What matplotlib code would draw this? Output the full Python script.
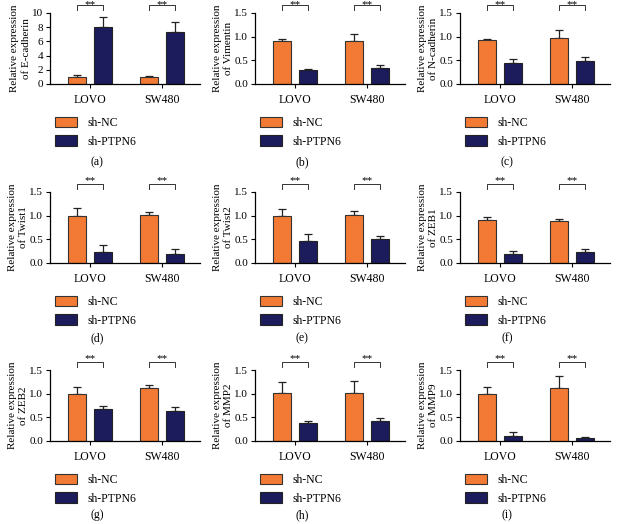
import numpy as np
import matplotlib
matplotlib.use("Agg")
import matplotlib.pyplot as plt
from matplotlib.patches import Patch
from matplotlib.transforms import blended_transform_factory

plt.rcParams["font.family"] = ["Liberation Serif", "DejaVu Serif"]

# ---------- data ----------
cell_lines = ["LOVO", "SW480"]
genes = ["E-cadherin", "Vimentin", "N-cadherin",
         "Twist1", "Twist2", "ZEB1",
         "ZEB2", "MMP2", "MMP9"]
panel_tags = ["(a)", "(b)", "(c)", "(d)", "(e)", "(f)", "(g)", "(h)", "(i)"]

nc_mean = [[1.0, 1.0], [0.91, 0.90], [0.93, 0.97],
           [1.0, 1.02], [1.0, 1.02], [0.90, 0.88],
           [1.0, 1.13], [1.02, 1.02], [1.0, 1.13]]
nc_err = [[0.2, 0.15], [0.05, 0.15], [0.02, 0.17],
          [0.17, 0.06], [0.14, 0.07], [0.07, 0.06],
          [0.15, 0.06], [0.22, 0.24], [0.14, 0.24]]
kd_mean = [[8.0, 7.3], [0.29, 0.33], [0.44, 0.48],
           [0.23, 0.19], [0.47, 0.51], [0.20, 0.23],
           [0.68, 0.63], [0.38, 0.42], [0.11, 0.07]]
kd_err = [[1.5, 1.5], [0.02, 0.08], [0.09, 0.10],
          [0.15, 0.11], [0.15, 0.07], [0.05, 0.07],
          [0.07, 0.09], [0.05, 0.07], [0.07, 0.02]]

legend_labels = ["sh-NC", "sh-PTPN6"]
orange = "#F27A34"
navy = "#1C1C5C"

# ---------- layout (pixels -> figure fractions) ----------
W, H = 618, 524
fig = plt.figure(figsize=(W / 100, H / 100), dpi=100)

col_left = [50, 255, 460]
row_bottom = [84, 263, 441]   # pixel y of the x-axis line
row_tag = [162, 338, 515]
ax_w, ax_h = 150, 71

x = np.arange(len(cell_lines))
bw = 0.255
off = 0.18

for i, gene in enumerate(genes):
    r, c = divmod(i, 3)
    left = col_left[c] / W
    bottom = 1 - row_bottom[r] / H
    ax = fig.add_axes([left, bottom, ax_w / W, ax_h / H])

    ax.bar(x - off, nc_mean[i], bw, color=orange, edgecolor="#333333",
           linewidth=0.8, zorder=2)
    ax.bar(x + off, kd_mean[i], bw, color=navy, edgecolor="#222222",
           linewidth=0.8, zorder=2)
    # upper error bars only
    ax.errorbar(x - off, nc_mean[i], yerr=[np.zeros(2), nc_err[i]], fmt="none",
                ecolor="#222222", elinewidth=0.9, capsize=3, capthick=0.9, zorder=1)
    ax.errorbar(x + off, kd_mean[i], yerr=[np.zeros(2), kd_err[i]], fmt="none",
                ecolor="#222222", elinewidth=0.9, capsize=3, capthick=0.9, zorder=1)

    ax.set_xlim(-0.555, 1.53)
    if i == 0:
        ax.set_ylim(0, 10)
        ax.set_yticks([0, 2, 4, 6, 8, 10])
    else:
        ax.set_ylim(0, 1.5)
        ax.set_yticks([0, 0.5, 1.0, 1.5])
        ax.set_yticklabels(["0.0", "0.5", "1.0", "1.5"])
    ax.set_xticks(x)
    ax.set_xticklabels(cell_lines, fontsize=8.5)
    ax.tick_params(axis="y", labelsize=8, length=3, width=0.8, pad=2)
    ax.tick_params(axis="x", length=3, width=0.8, pad=4)
    for s in ["top", "right"]:
        ax.spines[s].set_visible(False)
    for s in ["left", "bottom"]:
        ax.spines[s].set_linewidth(0.9)

    ax.set_ylabel("Relative expression\nof " + gene, fontsize=8,
                  linespacing=1.3, labelpad=1)

    # significance brackets
    trans = blended_transform_factory(ax.transData, ax.transAxes)
    for g in x:
        ax.plot([g - off, g - off, g + off, g + off], [1.04, 1.11, 1.11, 1.04],
                color="#333333", lw=0.7, transform=trans, clip_on=False)
        if r == 0:
            # top row: stars sit right at the top edge of the figure
            star_trans = blended_transform_factory(ax.transData, fig.transFigure)
            ax.text(g, 1.0, "**", ha="center", va="top", fontsize=8,
                    transform=star_trans, clip_on=False)
        else:
            ax.text(g, 1.10, "**", ha="center", va="bottom", fontsize=8,
                    transform=trans, clip_on=False)

    handles = [Patch(facecolor=orange, edgecolor="#333333", linewidth=0.8),
               Patch(facecolor=navy, edgecolor="#222222", linewidth=0.8)]
    ax.legend(handles, legend_labels, loc="upper left",
              bbox_to_anchor=(0.035, -0.46), frameon=False, fontsize=8.5,
              handlelength=1.8, handleheight=1.0, labelspacing=0.55,
              handletextpad=0.9, borderaxespad=0, borderpad=0)

    fig.text((col_left[c] + 47) / W, 1 - row_tag[r] / H, panel_tags[i],
             ha="center", va="center", fontsize=8.5)

fig.savefig("out.png", dpi=100)
